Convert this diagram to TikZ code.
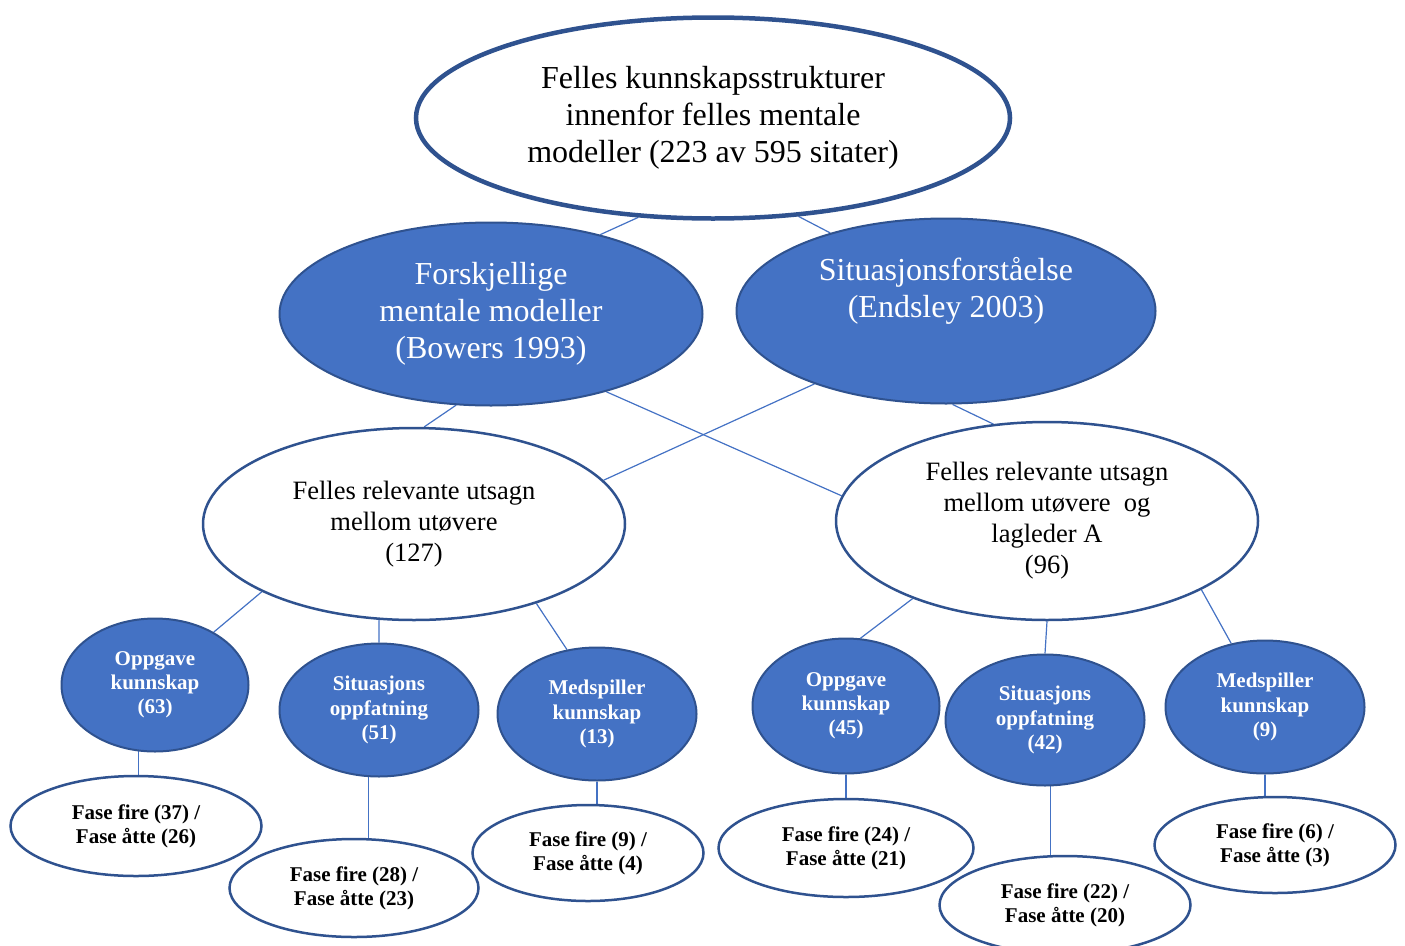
\documentclass[tikz,border=0pt]{standalone}
\usepackage{fontspec}
\setmainfont{Liberation Serif}
\usetikzlibrary{shapes.geometric,backgrounds}
\definecolor{accent}{HTML}{4472C4}
\definecolor{rim}{HTML}{2F528F}
\tikzset{
  oval/.style={ellipse, inner sep=0pt, align=center},
  root/.style={oval, draw=rim, line width=4.5pt, fill=white, font=\fontsize{32}{37}\selectfont},
  bigfill/.style={oval, draw=rim, line width=2pt, fill=accent, text=white, font=\fontsize{32}{37}\selectfont},
  midwhite/.style={oval, draw=rim, line width=2.5pt, fill=white, font=\fontsize{26.5}{31}\selectfont},
  smallfill/.style={oval, draw=rim, line width=2pt, fill=accent, text=white, font=\bfseries\fontsize{21}{24.2}\selectfont},
  leaf/.style={oval, draw=rim, line width=2.5pt, fill=white, font=\bfseries\fontsize{21}{24}\selectfont},
  link/.style={draw=accent, line width=1.2pt},
}
\begin{document}
\begin{tikzpicture}[x=1pt, y=-1pt]
\clip (0,0) rectangle (1405,945);

% top level
\node[root, minimum width=594pt, minimum height=201pt] (top) at (713,118)
  {Felles kunnskapsstrukturer\\innenfor felles mentale\\modeller (223 av 595 sitater)};

% theory level
\node[bigfill, minimum width=423pt, minimum height=183pt] (forsk) at (491,314)
  {Forskjellige\\mentale modeller\\(Bowers 1993)};
\node[bigfill, minimum width=419pt, minimum height=185pt] (situ) at (946,311)
  {Situasjonsforståelse\\(Endsley 2003)\\\strut};

% statement groups
\node[midwhite, minimum width=422pt, minimum height=192pt] (fellesL) at (414,524)
  {Felles relevante utsagn\\mellom utøvere\\(127)};
\node[midwhite, minimum width=422pt, minimum height=198pt] (fellesR) at (1047,521)
  {Felles relevante utsagn\\mellom utøvere\ \ og\\lagleder A\\(96)};

% knowledge categories
\node[smallfill, minimum width=187pt, minimum height=133pt] (opp63) at (155,685) {Oppgave\\kunnskap\\(63)};
\node[smallfill, minimum width=199pt, minimum height=133pt] (sit51) at (379,710) {Situasjons\\oppfatning\\(51)};
\node[smallfill, minimum width=199pt, minimum height=133pt] (med13) at (597,714) {Medspiller\\kunnskap\\(13)};
\node[smallfill, minimum width=187pt, minimum height=135pt] (opp45) at (846,706) {Oppgave\\kunnskap\\(45)};
\node[smallfill, minimum width=199pt, minimum height=131pt] (sit42) at (1045,720) {Situasjons\\oppfatning\\(42)};
\node[smallfill, minimum width=199pt, minimum height=133pt] (med9) at (1265,707) {Medspiller\\kunnskap\\(9)};

% phase split
\node[leaf, minimum width=251pt, minimum height=100pt] (f37) at (136,826) {Fase fire (37) /\\Fase åtte (26)};
\node[leaf, minimum width=249pt, minimum height=98pt] (f28) at (354,888) {Fase fire (28) /\\Fase åtte (23)};
\node[leaf, minimum width=231pt, minimum height=96pt] (f9) at (588,853) {Fase fire (9) /\\Fase åtte (4)};
\node[leaf, minimum width=255pt, minimum height=98pt] (f24) at (846,848) {Fase fire (24) /\\Fase åtte (21)};
\node[leaf, minimum width=251pt, minimum height=98pt] (f22) at (1065,905) {Fase fire (22) /\\Fase åtte (20)};
\node[leaf, minimum width=241pt, minimum height=96pt] (f6) at (1275,845) {Fase fire (6) /\\Fase åtte (3)};

% connectors behind the ovals
\begin{scope}[on background layer]
\draw[link] (top.233) -- (forsk.36);
\draw[link] (top.311) -- (situ.146);
\draw[link] (forsk.249) -- (fellesL.84);
\draw[link] (forsk.326) -- (fellesR.173);
\draw[link] (situ.209) -- (fellesL.13);
\draw[link] (situ.274) -- (fellesR.119);
\draw[link] (fellesL.204) -- (opp63.42);
\draw[link] (fellesL.250) -- (sit51.north);
\draw[link] (fellesL.327) -- (med13.115);
\draw[link] (fellesR.210) -- (opp45.78);
\draw[link] (fellesR.south) -- (sit42.north);
\draw[link] (fellesR.336) -- (med9.118);
\draw[link] (opp63.256) -- (opp63.256 |- f37.north);
\draw[link] (sit51.261) -- (sit51.261 |- f28.north);
\draw[link] (med13.south) -- (med13.south |- f9.north);
\draw[link] (opp45.south) -- (f24.north);
\draw[link] (sit42.275) -- (sit42.275 |- f22.north);
\draw[link] (med9.south) -- (med9.south |- f6.north);
\end{scope}
\end{tikzpicture}
\end{document}
